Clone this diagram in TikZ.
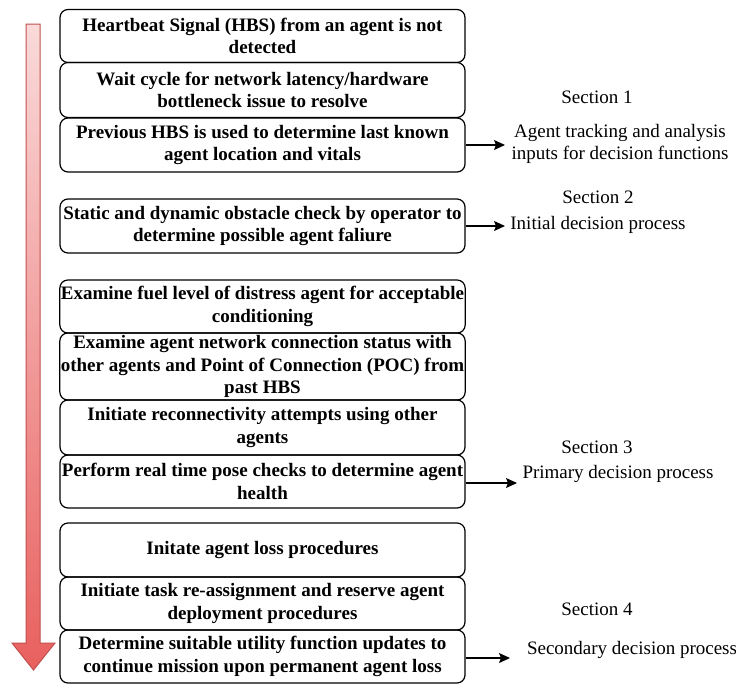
\documentclass[tikz,border=0pt]{standalone}
\usepackage{fontspec}
\setmainfont{Liberation Serif}
\usetikzlibrary{arrows.meta}
\definecolor{flowtop}{RGB}{250,218,218}
\definecolor{flowbot}{RGB}{232,96,94}
\definecolor{flowedge}{RGB}{192,80,77}
\begin{document}
\begin{tikzpicture}[>={Stealth[length=11pt,width=10pt,inset=2pt]}, x=1pt, y=-1pt,
  stepbox/.style={draw, rounded corners=8pt, line width=1.2pt, minimum width=405pt,
    align=center, inner sep=1pt, font=\fontsize{19}{22.5}\selectfont\bfseries},
  note/.style={align=center, font=\fontsize{19}{22.5}\selectfont}]
  \useasboundingbox (0,0) rectangle (736,683);
  % big shaded arrow down the left side
  \shade[top color=flowtop, bottom color=flowbot, draw=flowedge, line width=1pt]
    (26,24) -- (40,24) -- (40,643) -- (55,643) -- (33.5,670) -- (12,643) -- (26,643) -- cycle;
  % section 1
  \node[stepbox, minimum height=53pt] (hbs)  at (262.5,36)  {Heartbeat Signal (HBS) from an agent is not\\detected};
  \node[stepbox, minimum height=55pt] (wait) at (262.5,90)  {Wait cycle for network latency/hardware\\bottleneck issue to resolve};
  \node[stepbox, minimum height=54pt] (prev) at (262.5,145) {Previous HBS is used to determine last known\\agent location and vitals};
  % section 2
  \node[stepbox, minimum height=54pt] (obst) at (262.5,226) {Static and dynamic obstacle check by operator to\\determine possible agent faliure};
  % section 3
  \node[stepbox, minimum height=53pt] (fuel) at (262.5,306.5) {Examine fuel level of distress agent for acceptable\\conditioning};
  \node[stepbox, minimum height=67pt] (conn) at (262.5,366.5) {Examine agent network connection status with\\other agents and Point of Connection (POC) from\\past HBS};
  \node[stepbox, minimum height=55pt] (reco) at (262.5,427.5) {Initiate reconnectivity attempts using other\\agents};
  \node[stepbox, minimum height=53pt] (pose) at (262.5,481.5) {Perform real time pose checks to determine agent\\health};
  % section 4
  \node[stepbox, minimum height=54pt] (loss) at (262.5,550)   {Initate agent loss procedures};
  \node[stepbox, minimum height=53pt] (task) at (262.5,603.5) {Initiate task re-assignment and reserve agent\\deployment procedures};
  \node[stepbox, minimum height=53pt] (util) at (262.5,656.5) {Determine suitable utility function updates to\\continue mission upon permanent agent loss};
  % labels on the right
  \node[note] (sec1) at (597,97)  {Section 1};
  \node[note] (out1) at (620,144) {Agent tracking and analysis\\inputs for decision functions};
  \node[note] (sec2) at (598,197) {Section 2};
  \node[note] (out2) at (598,225) {Initial decision process};
  \node[note] (sec3) at (597,447) {Section 3};
  \node[note] (out3) at (618,474) {Primary decision process};
  \node[note] (sec4) at (597,609) {Section 4};
  \node[note] (out4) at (632,650) {Secondary decision process};
  \coordinate (a1) at (505,145);
  \coordinate (a2) at (505,226);
  \coordinate (a3) at (517,483);
  \coordinate (a4) at (510,658);
  \draw[->, line width=1.2pt] (prev.east) -- (a1);
  \draw[->, line width=1.2pt] (obst.east) -- (a2);
  \draw[->, line width=1.2pt] (pose.east |- a3) -- (a3);
  \draw[->, line width=1.2pt] (util.east |- a4) -- (a4);
\end{tikzpicture}
\end{document}
